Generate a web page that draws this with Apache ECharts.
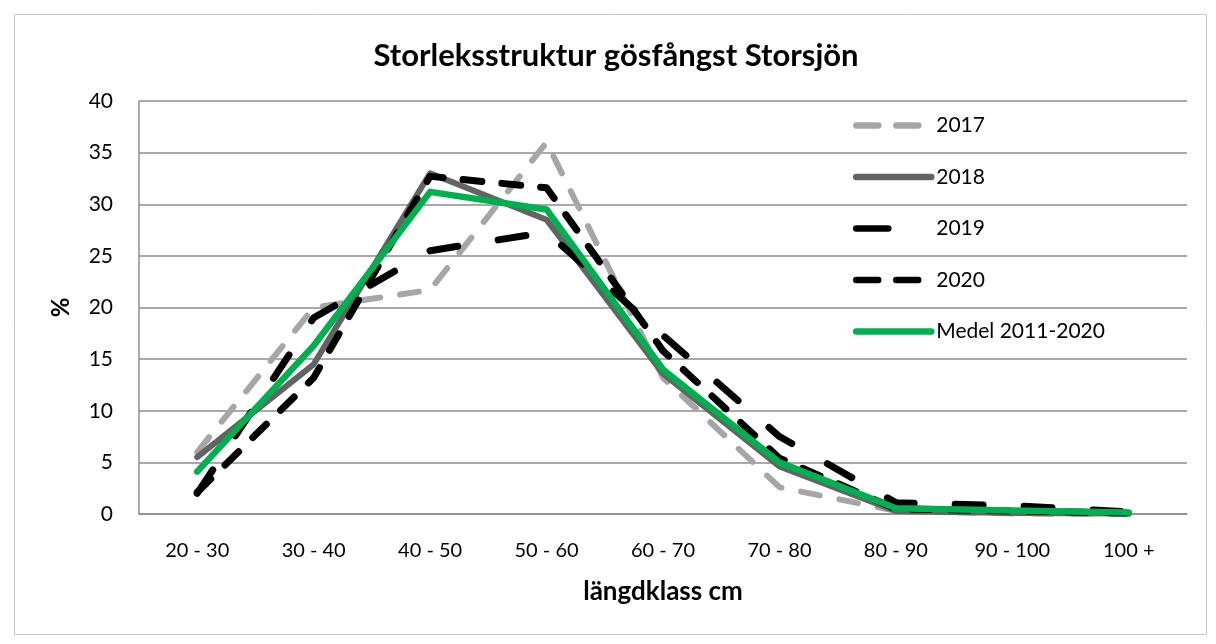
<!DOCTYPE html>
<html>
<head>
<meta charset="utf-8">
<script src="https://cdn.jsdelivr.net/npm/echarts@6/dist/echarts.min.js"></script>
<style>
html,body{margin:0;padding:0;background:#fff;}
#c{width:1216px;height:644px;}
</style>
</head>
<body>
<div id="c"></div>
<script>
const categories = ['20 - 30','30 - 40','40 - 50','50 - 60','60 - 70','70 - 80','80 - 90','90 - 100','100 +'];
const y2017 = [6.0, 20.0, 21.7, 36.0, 13.2, 2.6, 0.3, 0.05, 0.0];
const y2018 = [5.5, 14.5, 33.0, 28.5, 13.6, 4.6, 0.3, 0.1, 0.05];
const y2019 = [2.0, 19.0, 25.5, 27.3, 17.3, 7.5, 1.1, 0.8, 0.2];
const y2020 = [2.1, 13.2, 32.7, 31.6, 15.8, 5.4, 0.5, 0.3, 0.1];
const medel = [4.1, 16.3, 31.2, 29.5, 14.0, 5.0, 0.55, 0.33, 0.15];
const seriesNames = ['2017','2018','2019','2020','Medel 2011-2020'];

const FONT = 'Lato, "Open Sans", sans-serif';
const chart = echarts.init(document.getElementById('c'), null, {renderer:'canvas'});

const styles = {
  '2017': {color:'#a6a6a6', width:6, type:[19,20]},
  '2018': {color:'#636363', width:6, type:'solid'},
  '2019': {color:'#000000', width:7, type:[28,41]},
  '2020': {color:'#000000', width:7, type:[19,20]},
  'Medel 2011-2020': {color:'#00b050', width:6.5, type:'solid'}
};
const legendTypes = {
  '2017': [22,18], '2018':'solid', '2019':[32,80], '2020':[22,18], 'Medel 2011-2020':'solid'
};

function mk(name, data){
  const s = styles[name];
  return {
    name, type:'line', data, symbol:'none', showSymbol:false, smooth:false,
    lineStyle:{color:s.color, width:s.width, type:s.type, cap:'round', join:'round'},
    itemStyle:{color:s.color},
    emphasis:{disabled:true}, animation:false
  };
}

chart.setOption({
  animation:false,
  graphic:[{
    type:'rect', left:12, top:12, silent:true,
    shape:{width:1192, height:620},
    style:{fill:'none', stroke:'#c8c8c8', lineWidth:1}
  }],
  title:{
    text:'Storleksstruktur gösfångst Storsjön',
    left:611, top:35, textAlign:'center',
    textStyle:{fontFamily:FONT, fontWeight:'bold', fontSize:31, color:'#000'}
  },
  grid:{left:139, top:101, right:29, bottom:130, containLabel:false},
  legend:{
    orient:'vertical', left:853, top:115, padding:0,
    itemWidth:75, itemHeight:6, itemGap:30.5,
    itemStyle:{opacity:0},
    textStyle:{fontFamily:FONT, fontSize:21, color:'#000'},
    data:seriesNames.map(n => ({
      name:n,
      itemStyle:{opacity:0},
      lineStyle:{color:styles[n].color, width:6.5, type:legendTypes[n], cap:'round'}
    }))
  },
  xAxis:{
    type:'category', data:categories, boundaryGap:true,
    axisLine:{show:true, lineStyle:{color:'#8c8c8c', width:1.5}},
    axisTick:{show:false},
    axisLabel:{fontFamily:FONT, fontSize:20, color:'#000', margin:27, interval:0},
    name:'längdklass cm', nameLocation:'middle', nameGap:65,
    nameTextStyle:{fontFamily:FONT, fontSize:26, fontWeight:'bold', color:'#000'}
  },
  yAxis:{
    type:'value', min:0, max:40, interval:5,
    axisLine:{show:true, lineStyle:{color:'#8c8c8c', width:1.5}},
    axisTick:{show:false},
    splitLine:{show:true, lineStyle:{color:'#8c8c8c', width:1.5}},
    axisLabel:{fontFamily:FONT, fontSize:21, color:'#000', margin:26},
    name:'%', nameLocation:'middle', nameGap:66, nameRotate:90,
    nameTextStyle:{fontFamily:FONT, fontSize:24, fontWeight:'bold', color:'#000'}
  },
  series:[
    mk('2017', y2017),
    mk('2018', y2018),
    mk('2019', y2019),
    mk('2020', y2020),
    mk('Medel 2011-2020', medel)
  ]
});
</script>
</body>
</html>
